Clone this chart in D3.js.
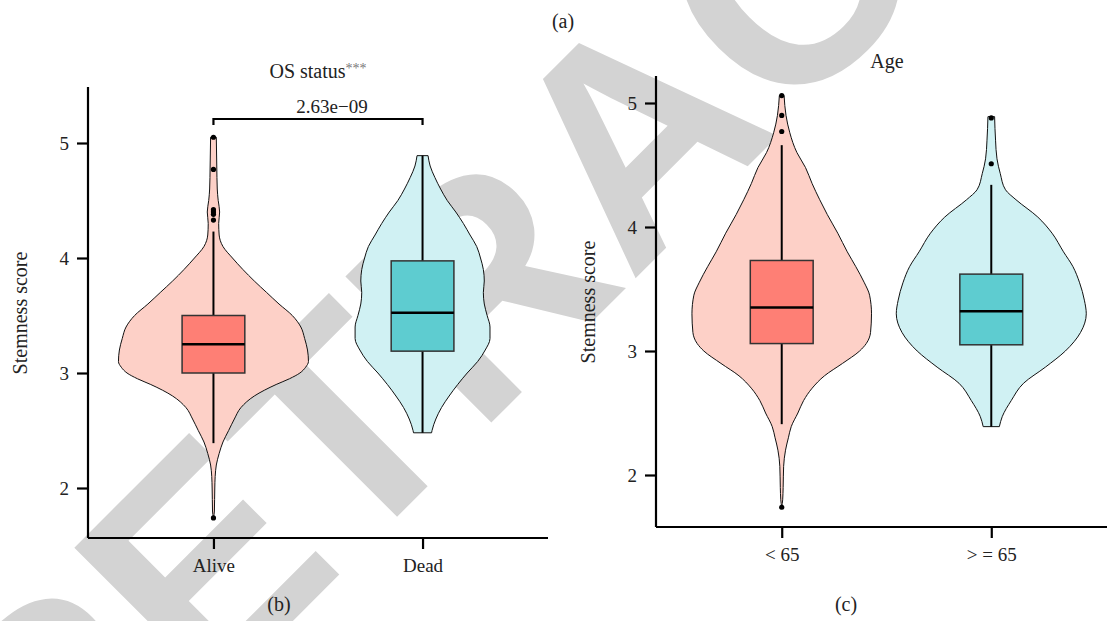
<!DOCTYPE html>
<html><head><meta charset="utf-8">
<script src="https://cdn.jsdelivr.net/npm/d3@7"></script>
<style>body{margin:0;background:#fff}svg{display:block}</style>
</head><body>
<svg id="c" width="1107" height="621"></svg>
<script>
// ---------- data ----------
const leftCats = ["Alive", "Dead"];
const leftQ1 = [3.00, 3.19];
const leftMed = [3.25, 3.525];
const leftQ3 = [3.50, 3.975];
const leftLo = [2.39, 2.48];
const leftHi = [4.23, 4.89];
const leftOut = [[5.05, 4.77, 4.42, 4.40, 4.38, 4.33, 1.74], []];
const aliveDens = [[1.74,0],[1.8,0.01],[1.9,0.012],[2.0,0.014],[2.1,0.018],[2.2,0.03],[2.3,0.06],[2.4,0.10],[2.5,0.16],[2.6,0.22],[2.7,0.29],[2.8,0.43],[2.9,0.66],[2.95,0.80],[3.0,0.91],[3.05,0.97],[3.1,1.0],[3.2,0.99],[3.3,0.96],[3.4,0.92],[3.5,0.83],[3.6,0.69],[3.7,0.56],[3.8,0.43],[3.9,0.31],[4.0,0.2],[4.1,0.1],[4.2,0.06],[4.3,0.055],[4.4,0.065],[4.5,0.05],[4.6,0.04],[4.8,0.035],[5.05,0.03]];
const deadDens = [[2.48,0.095],[2.5,0.10],[2.6,0.14],[2.7,0.20],[2.8,0.28],[2.9,0.37],[3.0,0.47],[3.1,0.58],[3.2,0.66],[3.3,0.71],[3.4,0.71],[3.5,0.68],[3.6,0.65],[3.7,0.64],[3.8,0.65],[3.9,0.64],[4.0,0.61],[4.1,0.57],[4.2,0.5],[4.3,0.43],[4.4,0.35],[4.5,0.26],[4.6,0.19],[4.7,0.13],[4.8,0.08],[4.89,0.058]];
const leftP = "2.63e\u221209";

const rightCats = ["< 65", "> = 65"];
const rightQ1 = [3.06, 3.05];
const rightMed = [3.35, 3.32];
const rightQ3 = [3.73, 3.62];
const rightLo = [2.41, 2.39];
const rightHi = [4.66, 4.34];
const rightOut = [[5.06, 4.90, 4.77, 1.74], [4.88, 4.51]];
const youngDens = [[1.74,0],[1.8,0.01],[1.9,0.015],[2.07,0.02],[2.2,0.04],[2.3,0.07],[2.39,0.10],[2.5,0.17],[2.6,0.23],[2.7,0.32],[2.8,0.45],[2.9,0.64],[3.0,0.82],[3.06,0.89],[3.15,0.935],[3.3,0.945],[3.45,0.925],[3.55,0.87],[3.68,0.78],[3.8,0.69],[3.95,0.59],[4.1,0.48],[4.22,0.40],[4.35,0.32],[4.48,0.25],[4.6,0.16],[4.76,0.085],[4.9,0.045],[5.06,0.025]];
const oldDens = [[2.39,0.085],[2.47,0.115],[2.6,0.21],[2.74,0.34],[2.87,0.57],[3.0,0.78],[3.15,0.94],[3.3,1.0],[3.41,0.98],[3.55,0.93],[3.68,0.86],[3.8,0.76],[3.95,0.64],[4.08,0.49],[4.22,0.26],[4.3,0.15],[4.43,0.095],[4.55,0.06],[4.7,0.045],[4.89,0.035]];

const yTicks = [2, 3, 4, 5];
const violinFill = ["#FDD0C7", "#D0F1F3"];
const boxFill = ["#FE7F75", "#5ECCD0"];

// ---------- drawing ----------
const svg = d3.select("#c");

// watermark (beneath the chart)
(function(){
  const fs = 300, rot = -45, ls = 0;
  const t = svg.append("text").text("RETRACTED")
    .style("font-family", "'Liberation Sans', Arial, sans-serif")
    .attr("font-weight", "bold").attr("font-size", fs)
    .attr("letter-spacing", ls).attr("fill", "#d3d3d3");
  const ext = t.node().getExtentOfChar(4);
  const cx = ext.x + ext.width / 2, cy = -0.716 * fs / 2;
  t.attr("transform", `translate(631,131) rotate(${rot}) translate(${-cx},${-cy})`);
})();

function stxt(sel, size) {
  return sel.style("font-family", '"Liberation Serif","DejaVu Serif",serif')
    .attr("font-size", size).attr("fill", "#222");
}

function panel(o) {
  const g = svg.append("g");
  const x = d3.scalePoint().domain(o.cats).range([o.x0, o.x1]).padding(0.6);
  const y = d3.scaleLinear().domain(o.yDom).range([o.yb, o.yt]);
  const w = d3.scaleLinear().domain([0, 1]).range([0, 95]);
  const bw = x.step() * 0.3;

  o.dens.forEach((dd, i) => {
    const cx = x(o.cats[i]);
    const area = d3.area()
      .y(d => y(d[0]))
      .x0(d => cx - w(d[1]))
      .x1(d => cx + w(d[1]))
      .curve(d3.curveMonotoneY);
    g.append("path").attr("d", area(dd) + "Z")
      .attr("fill", violinFill[i]).attr("stroke", "#111").attr("stroke-width", 1);
  });
  o.cats.forEach((c, i) => {
    const cx = x(c);
    g.append("line").attr("x1", cx).attr("x2", cx).attr("y1", y(o.lo[i])).attr("y2", y(o.q3[i]))
      .attr("stroke", "#000").attr("stroke-width", 2);
    g.append("line").attr("x1", cx).attr("x2", cx).attr("y1", y(o.q1[i])).attr("y2", y(o.hi[i]))
      .attr("stroke", "#000").attr("stroke-width", 2);
    g.append("rect").attr("x", cx - bw / 2).attr("width", bw)
      .attr("y", y(o.q3[i])).attr("height", y(o.q1[i]) - y(o.q3[i]))
      .attr("fill", boxFill[i]).attr("stroke", "#333").attr("stroke-width", 1.5);
    g.append("line").attr("x1", cx - bw / 2).attr("x2", cx + bw / 2)
      .attr("y1", y(o.med[i])).attr("y2", y(o.med[i]))
      .attr("stroke", "#000").attr("stroke-width", 2.5);
    o.out[i].forEach(v => {
      g.append("circle").attr("cx", cx).attr("cy", y(v)).attr("r", 2.6).attr("fill", "#000");
    });
  });

  const ya = g.append("g").attr("transform", `translate(${o.x0},0)`)
    .call(d3.axisLeft(y).tickValues(yTicks).tickSize(11).tickPadding(8).tickFormat(d3.format("d")));
  ya.select(".domain").attr("d", `M0,${o.yb}V${o.yt}`);
  const xa = g.append("g").attr("transform", `translate(0,${o.yb})`)
    .call(d3.axisBottom(x).tickSize(11).tickPadding(10));
  xa.select(".domain").attr("d", `M${o.x0},0H${o.xEnd}`);
  [ya, xa].forEach(a => {
    a.attr("font-family", null);
    a.selectAll("path,line").attr("stroke", "#000").attr("stroke-width", 2.2);
    stxt(a.selectAll("text"), 19);
  });

  stxt(g.append("text"), 20).attr("transform", `translate(${o.ylx},${o.yly}) rotate(-90)`)
    .attr("text-anchor", "middle").text("Stemness score");
  const t = stxt(g.append("text"), 20).attr("x", o.titleX).attr("y", o.titleY).attr("text-anchor", "middle");
  t.append("tspan").text(o.title);
  if (o.stars) t.append("tspan").attr("font-size", 14).attr("dy", -5).attr("fill", "#777").text(o.stars);
  return { x, y };
}

const L = panel({
  cats: leftCats, x0: 88, x1: 548, xEnd: 548, yb: 538, yt: 87,
  yDom: [3 - 165 / 115, 3 + 286 / 115],
  dens: [aliveDens, deadDens], q1: leftQ1, med: leftMed, q3: leftQ3, lo: leftLo, hi: leftHi, out: leftOut,
  ylx: 27, yly: 313, title: "OS status", stars: "***", titleX: 318, titleY: 78
});
(function(){
  const a = L.x(leftCats[0]), b = L.x(leftCats[1]);
  const by = 119;
  svg.append("path").attr("d", `M${a},${by + 6}V${by}H${b}V${by + 6}`)
    .attr("fill", "none").attr("stroke", "#000").attr("stroke-width", 2.2);
  stxt(svg.append("text"), 19).attr("x", (a + b) / 2 + 14).attr("y", 113).attr("text-anchor", "middle").text(leftP);
})();

panel({
  cats: rightCats, x0: 656, x1: 1117, xEnd: 1117, yb: 527, yt: 76,
  yDom: [3 - 176 / 124, 3 + 275 / 124],
  dens: [youngDens, oldDens], q1: rightQ1, med: rightMed, q3: rightQ3, lo: rightLo, hi: rightHi, out: rightOut,
  ylx: 595, yly: 302, title: "Age", stars: null, titleX: 887, titleY: 68
});

[["(a)", 563, 28], ["(b)", 279, 611], ["(c)", 846, 611]].forEach(([s, px, py]) => {
  stxt(svg.append("text"), 20).attr("x", px).attr("y", py).attr("text-anchor", "middle").text(s);
});
</script>
</body></html>
